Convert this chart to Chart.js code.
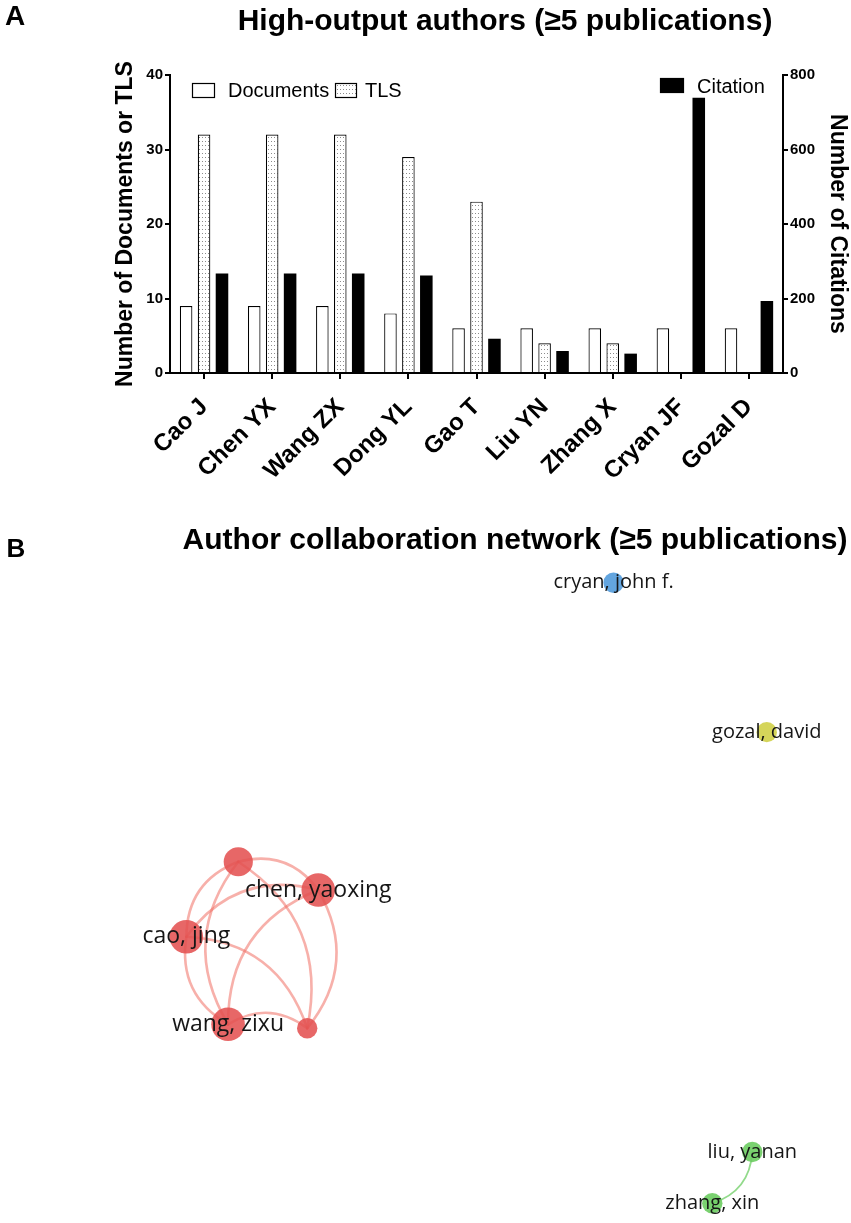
<!DOCTYPE html>
<html><head><meta charset="utf-8">
<script src="https://cdn.jsdelivr.net/npm/chart.js@4.4.1/dist/chart.umd.min.js"></script>
<style>
html,body{margin:0;padding:0;background:#fff;}
#wrap{position:relative;width:851px;height:1223px;overflow:hidden;background:#fff;}
#cA{position:absolute;left:0;top:0;}
#cB{position:absolute;left:0;top:520px;}
</style></head><body>
<div id="wrap"><canvas id="cA" width="851" height="520"></canvas><canvas id="cB" width="851" height="703"></canvas></div>
<script>
// ---------- Panel A data ----------
const authors = ['Cao J','Chen YX','Wang ZX','Dong YL','Gao T','Liu YN','Zhang X','Cryan JF','Gozal D'];
const documents = [9,9,9,8,6,6,6,6,6];
const tls = [32,32,32,29,23,4,4,0,0];
const citations = [267,267,267,262,92,59,52,739,193];
const leftTicks = [0,10,20,30,40];
const rightTicks = [0,200,400,600,800];

// ---------- Panel B data (map coordinates 0-100) ----------
const netLabels = ['wang, zixu','cao, jing','','chen, yaoxing','','cryan, john f.','gozal, david','liu, yanan','zhang, xin'];
const netDocs = [9,9,8,9,6,6,6,6,6];
const netCluster = [0,0,0,0,0,1,2,3,3];
const netX = [26.8,21.9,28.0,37.4,36.1,72.1,90.1,88.4,83.7];
const netY = [30.2,43.5,54.9,50.6,29.6,97.3,74.6,10.8,3.0];
const netLinks = [[0,1],[0,2],[0,3],[0,4],[1,2],[1,3],[1,4],[2,3],[2,4],[3,4],[7,8]];

const SANS = '"Liberation Sans", Arial, Helvetica, sans-serif';
const clusterColors = ['rgba(228,82,82,0.88)','rgba(82,155,220,0.9)','rgba(208,208,72,0.9)','rgba(108,204,96,0.9)'];
const clusterEdge = ['rgba(240,112,100,0.55)','rgba(82,155,220,0.6)','rgba(208,208,72,0.6)','rgba(110,205,100,0.75)'];

const headlines = {
  id:'headlines',
  afterDraw(chart, args, opts){
    const ctx = chart.ctx; ctx.save();
    (opts.items||[]).forEach(it=>{
      ctx.font = it.font; ctx.fillStyle = it.color || '#000';
      ctx.textAlign = it.align || 'center'; ctx.textBaseline = 'middle';
      ctx.fillText(it.text, it.x, it.y);
    });
    ctx.restore();
  }
};

const boxLegend = {
  id:'boxLegend',
  afterDraw(chart, args, opts){
    const ctx = chart.ctx; ctx.save();
    opts.items.forEach(it=>{
      const ds = chart.data.datasets[it.index];
      ctx.fillStyle = ds.backgroundColor;
      ctx.fillRect(it.x, it.y, it.w, it.h);
      ctx.lineWidth = 1.2; ctx.strokeStyle = '#000';
      ctx.strokeRect(it.x+0.5, it.y+0.5, it.w-1, it.h-1);
      ctx.fillStyle = '#000'; ctx.font = opts.font;
      ctx.textAlign = 'left'; ctx.textBaseline = 'alphabetic';
      ctx.fillText(ds.label, it.x + it.w + it.gap, it.base);
    });
    ctx.restore();
  }
};

// dotted pattern for TLS
const ctxA = document.getElementById('cA').getContext('2d');
const tile = document.createElement('canvas'); tile.width = 3; tile.height = 4;
const tg = tile.getContext('2d');
tg.fillStyle = '#fff'; tg.fillRect(0,0,3,4);
tg.fillStyle = '#8c8c8c'; tg.fillRect(1,1,1,1);
const dots = ctxA.createPattern(tile, 'repeat');

const tickFont = {family:SANS, size:15, weight:'bold'};
const titleFont = {family:SANS, size:23, weight:'bold'};

new Chart(ctxA, {
  type:'bar',
  data:{
    labels: authors,
    datasets:[
      {label:'Documents', data:documents, backgroundColor:'#fff', borderColor:'#000', borderWidth:1.2, yAxisID:'y', categoryPercentage:0.79, barPercentage:0.7},
      {label:'TLS', data:tls, backgroundColor:dots, borderColor:'#000', borderWidth:1.2, yAxisID:'y', categoryPercentage:0.79, barPercentage:0.7},
      {label:'Citation', data:citations, backgroundColor:'#000', borderColor:'#000', borderWidth:0, yAxisID:'y1', categoryPercentage:0.79, barPercentage:0.7}
    ]
  },
  options:{
    responsive:false, animation:false, events:[],
    layout:{autoPadding:false, padding:{left:109, right:0, top:75, bottom:0}},
    scales:{
      x:{
        type:'category', offset:true,
        grid:{display:true, drawOnChartArea:false, drawTicks:true, tickLength:6, color:'#000', lineWidth:2, offset:false},
        border:{display:true, color:'#000', width:2},
        ticks:{color:'#000', font:{family:SANS, size:24, weight:'bold'}, minRotation:45, maxRotation:45, autoSkip:false, padding:14},
        afterFit(s){ s.height = 147; }
      },
      y:{
        position:'left', min:0, max:40,
        afterBuildTicks(s){ s.ticks = leftTicks.map(v=>({value:v})); },
        grid:{drawOnChartArea:false, drawTicks:true, tickLength:5, color:'#000', lineWidth:2},
        border:{display:true, color:'#000', width:2},
        ticks:{color:'#000', font:tickFont, padding:2},
        title:{display:true, text:'Number of Documents or TLS', color:'#000', font:titleFont, padding:{top:3, bottom:0}},
        afterFit(s){ s.width = 61; }
      },
      y1:{
        position:'right', min:0, max:800,
        afterBuildTicks(s){ s.ticks = rightTicks.map(v=>({value:v})); },
        grid:{drawOnChartArea:false, drawTicks:true, tickLength:5, color:'#000', lineWidth:2},
        border:{display:true, color:'#000', width:2},
        ticks:{color:'#000', font:tickFont, padding:2},
        title:{display:true, text:'Number of Citations', color:'#000', font:titleFont, padding:{top:0, bottom:0}},
        afterFit(s){ s.width = 68; }
      }
    },
    plugins:{
      legend:{display:false}, tooltip:{enabled:false}, title:{display:false},
      headlines:{items:[
        {text:'A', x:15, y:17, font:'bold 28px '+SANS},
        {text:'High-output authors (\u22655 publications)', x:505, y:22, font:'bold 30px '+SANS}
      ]},
      boxLegend:{font:'20px '+SANS, items:[
        {index:0, x:192, y:83, w:23, h:15, gap:13, base:97},
        {index:1, x:335, y:83, w:22, h:15, gap:8, base:97},
        {index:2, x:660, y:78, w:24, h:15, gap:13, base:93}
      ]}
    }
  },
  plugins:[headlines, boxLegend]
});

// ---------- Panel B ----------
const edgesPlugin = {
  id:'edges',
  beforeDatasetsDraw(chart){
    const ctx = chart.ctx, sx = chart.scales.x, sy = chart.scales.y;
    ctx.save(); ctx.lineCap = 'round';
    netLinks.forEach(([a,b])=>{
      const x1 = sx.getPixelForValue(netX[a]), y1 = sy.getPixelForValue(netY[a]);
      const x2 = sx.getPixelForValue(netX[b]), y2 = sy.getPixelForValue(netY[b]);
      const dx = x2-x1, dy = y2-y1;
      const cx = (x1+x2)/2 + dy*0.34, cy = (y1+y2)/2 - dx*0.34;
      const cl = netCluster[a];
      ctx.strokeStyle = clusterEdge[cl];
      ctx.lineWidth = cl === 0 ? 2.6 : 1.8;
      ctx.beginPath(); ctx.moveTo(x1,y1); ctx.quadraticCurveTo(cx,cy,x2,y2); ctx.stroke();
    });
    ctx.restore();
  }
};
const nodeLabels = {
  id:'nodeLabels',
  afterDatasetsDraw(chart){
    const ctx = chart.ctx, sx = chart.scales.x, sy = chart.scales.y;
    ctx.save(); ctx.textAlign = 'center'; ctx.textBaseline = 'middle'; ctx.fillStyle = '#161616';
    netLabels.forEach((t,i)=>{
      if(!t) return;
      ctx.font = (14 + netDocs[i]) + 'px "Open Sans", "Noto Sans", sans-serif';
      ctx.fillText(t, sx.getPixelForValue(netX[i]), sy.getPixelForValue(netY[i]));
    });
    ctx.restore();
  }
};

new Chart(document.getElementById('cB').getContext('2d'), {
  type:'scatter',
  data:{datasets:[{
    data: netX.map((x,i)=>({x:x, y:netY[i]})),
    pointRadius: c => 2.2*netDocs[c.dataIndex] - 3,
    backgroundColor: c => clusterColors[netCluster[c.dataIndex]],
    borderWidth:0, clip:false
  }]},
  options:{
    responsive:false, animation:false, events:[],
    layout:{autoPadding:false, padding:{top:45, left:0, right:0, bottom:0}},
    scales:{
      x:{type:'linear', min:0, max:100, display:false},
      y:{type:'linear', min:0, max:100, display:false}
    },
    plugins:{
      legend:{display:false}, tooltip:{enabled:false},
      headlines:{items:[
        {text:'B', x:16, y:30, font:'bold 26px '+SANS},
        {text:'Author collaboration network (\u22655 publications)', x:515, y:21, font:'bold 30px '+SANS}
      ]}
    }
  },
  plugins:[edgesPlugin, nodeLabels, headlines]
});
</script>
</body></html>
